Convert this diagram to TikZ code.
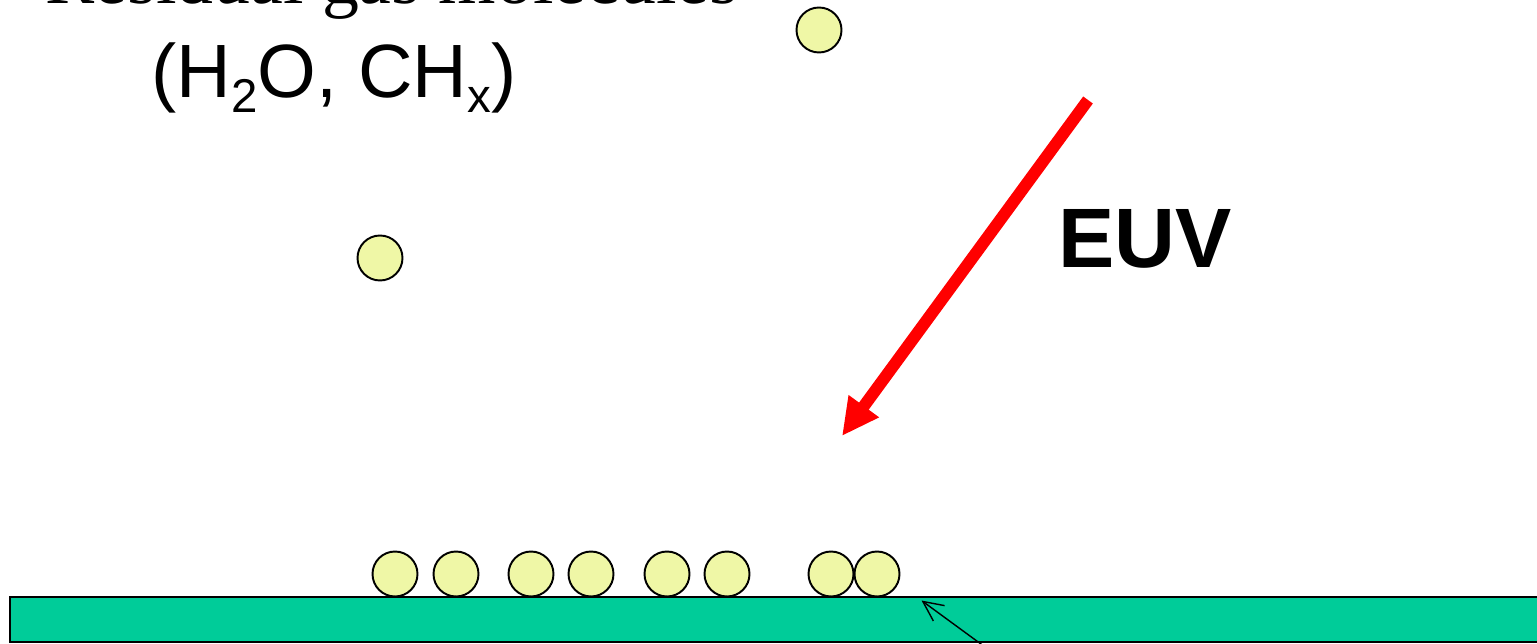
\documentclass[tikz,border=0pt]{standalone}
\usepackage{fontspec}
\setmainfont{Liberation Serif}
\newfontfamily\arialfont{Liberation Sans}
\usepackage{tikz}
\usetikzlibrary{arrows.meta,positioning}
\definecolor{molfill}{RGB}{239,247,166}
\definecolor{subfill}{RGB}{0,204,153}
\definecolor{euvred}{RGB}{255,0,0}
\newcommand{\lowsub}[1]{\raisebox{-8pt}{\fontsize{27}{27}\selectfont #1}}
\tikzset{
  gasmol/.style={
    circle, draw=black, fill=molfill, line width=1.1pt,
    minimum size=0.9cm, inner sep=0pt
  },
  substrate/.style={draw=black, fill=subfill, line width=1.1pt},
  euvray/.style={-{Triangle[length=0.74cm,width=0.7cm]},draw=euvred,line width=6.8pt},
  pointer/.style={-{Straight Barb[length=0.4cm,width=0.38cm]},line width=0.8pt},
  bigtext/.style={anchor=base west,inner sep=0pt}
}

\begin{document}
\begin{tikzpicture}[x=0.02cm,y=-0.02cm]
  \useasboundingbox (0,0) rectangle (1537,644);
  \clip (0,0) rectangle (1537,644);

  % labels
  \node[bigtext,font=\fontsize{42}{50}\selectfont] (gaslabel) at (45,4) {Residual gas molecules};
  \node[bigtext,font=\arialfont\fontsize{43}{50}\selectfont] (gasformula) at (151,98)
    {(H\lowsub{2}O, CH\lowsub{x})};
  \node[bigtext,font=\arialfont\bfseries\fontsize{48}{56}\selectfont] (euvlabel) at (1058,268) {EUV};

  % substrate
  \draw[substrate] (10,597) rectangle (1560,642);

  % free molecules
  \node[gasmol] (g1) at (819,30) {};
  \node[gasmol] (g2) at (380,258) {};

  % adsorbed molecules
  \node[gasmol] (m1) at (395,574) {};
  \node[gasmol] (m2) at (456,574) {};
  \node[gasmol] (m3) at (531,574) {};
  \node[gasmol] (m4) at (591,574) {};
  \node[gasmol] (m5) at (667,574) {};
  \node[gasmol] (m6) at (727,574) {};
  \node[gasmol] (m7) at (831,574) {};
  \node[gasmol] (m8) at (877,574) {};

  % EUV ray
  \coordinate (euvstart) at (1088,100);
  \coordinate (euvtip) at (842,436);
  \draw[euvray] (euvstart) -- (euvtip);

  % pointer to the surface
  \coordinate (surfpt) at (921.5,600.5);
  \coordinate (ptrfoot) at (985,647);
  \draw[pointer] (ptrfoot) -- (surfpt);
\end{tikzpicture}
\end{document}
